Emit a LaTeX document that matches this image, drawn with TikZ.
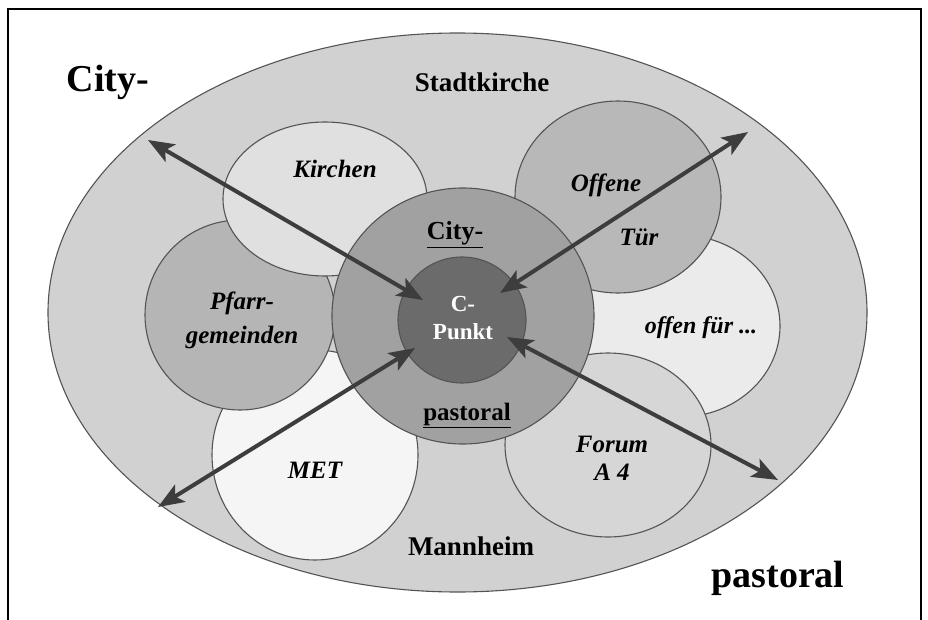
\documentclass[tikz,border=0pt]{standalone}
\usepackage{fontspec}
\setmainfont{Liberation Serif}
\usetikzlibrary{arrows.meta}
\definecolor{outerfill}{gray}{0.82}
\definecolor{midfill}{gray}{0.63}
\definecolor{innerfill}{gray}{0.42}
\definecolor{rimgray}{gray}{0.33}
\definecolor{arrowgray}{gray}{0.24}
\begin{document}
\begin{tikzpicture}[x=1pt,y=-1pt,
	ring/.style={draw=rimgray,line width=1.1pt},
	dblarrow/.style={{Stealth[length=26pt,width=20pt,inset=6pt]}-{Stealth[length=26pt,width=20pt,inset=6pt]},line width=4pt,draw=arrowgray},
	lbl/.style={font=\bfseries\itshape\fontsize{25}{28}\selectfont,align=center},
	title/.style={font=\bfseries\fontsize{27}{30}\selectfont,anchor=base}]
	\useasboundingbox (0,0) rectangle (928,620);
	\draw[line width=2.5pt] (8,640) -- (8,9) -- (921,9) -- (921,640);
	% Stadtkirche
	\draw[ring,fill=outerfill] (457.5,312.5) ellipse (409.5 and 279.5);
	% Kreise
	\draw[ring,fill=black!4] (315,455) ellipse (103 and 105);
	\draw[ring,fill=black!29] (240,315) ellipse (95 and 95);
	\draw[ring,fill=black!12] (325,199) ellipse (102 and 77);
	\draw[ring,fill=black!8] (680,326) ellipse (100 and 91);
	\draw[ring,fill=black!28] (618,197) ellipse (103 and 96);
	\draw[ring,fill=black!16] (608,445) ellipse (103 and 92);
	% City-Pastoral und C-Punkt
	\draw[ring,fill=midfill] (463,316) ellipse (131 and 128);
	\draw[ring,fill=innerfill] (462,320) ellipse (64 and 63);
	% Pfeile
	\coordinate (nwout) at (148,140);
	\coordinate (nwin) at (423,300);
	\coordinate (neout) at (748,132);
	\coordinate (nein) at (500,293);
	\coordinate (swout) at (158,507);
	\coordinate (swin) at (415,348);
	\coordinate (seout) at (778,480);
	\coordinate (sein) at (507,337);
	\draw[dblarrow] (nwout) -- (nwin);
	\draw[dblarrow] (neout) -- (nein);
	\draw[dblarrow] (swout) -- (swin);
	\draw[dblarrow] (seout) -- (sein);
	% Texte
	\node[title,font=\bfseries\fontsize{38}{40}\selectfont] (city) at (108,92) {City-};
	\node[title,font=\bfseries\fontsize{38}{40}\selectfont] (pastoral) at (778,587) {pastoral};
	\node[title] (stadtkirche) at (482,92) {Stadtkirche};
	\node[title] (mannheim) at (471,555) {Mannheim};
	\node[title,font=\bfseries\fontsize{26}{28}\selectfont] (citymid) at (455,240) {\underline{City-}};
	\node[title,font=\bfseries\fontsize{25}{28}\selectfont] (pastoralmid) at (467,420) {\underline{pastoral}};
	\node[font=\bfseries\fontsize{23}{28}\selectfont,align=center,text=white] (cpunkt) at (463,318) {C-\\Punkt};
	\node[lbl,anchor=base] (kirchen) at (335,178) {Kirchen};
	\node[lbl,anchor=base] (offene) at (606,192) {Offene};
	\node[lbl,anchor=base] (tuer) at (639,245) {Tür};
	\node[lbl,font=\bfseries\itshape\fontsize{25}{34}\selectfont] (pfarr) at (242,320) {Pfarr-\\gemeinden};
	\node[lbl,anchor=base,font=\bfseries\itshape\fontsize{24}{28}\selectfont] (offenfuer) at (701,333) {offen für ...};
	\node[lbl,anchor=base] (met) at (315,478) {MET};
	\node[lbl] (forum) at (612,458) {Forum\\A 4};
\end{tikzpicture}
\end{document}
